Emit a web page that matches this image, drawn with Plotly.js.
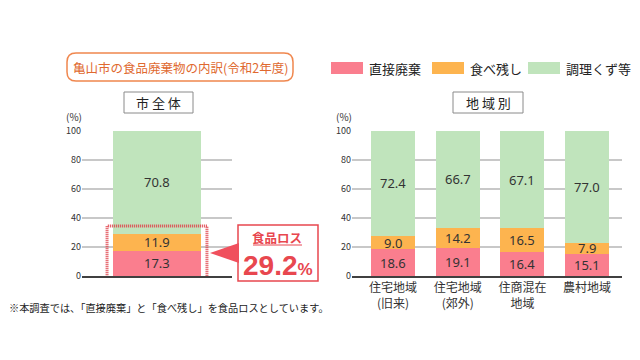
<!DOCTYPE html>
<html>
<head>
<meta charset="utf-8">
<script src="https://cdn.plot.ly/plotly-3.0.1.min.js"></script>
<style>html,body{margin:0;padding:0;background:#fff;}#chart{width:640px;height:360px;}</style>
</head>
<body>
<div id="chart"></div>
<script>
// ---- data ----
const cityCategory = ['市全体'];
const cityDirect = [17.3];
const cityLeftover = [11.9];
const cityPrep = [70.8];

const regionCategories = ['住宅地域<br>(旧来)', '住宅地域<br>(郊外)', '住商混在<br>地域', '農村地域'];
const regionDirect = [18.6, 19.1, 16.4, 15.1];
const regionLeftover = [9.0, 14.2, 16.5, 7.9];
const regionPrep = [72.4, 66.7, 67.1, 77.0];

const seriesNames = ['直接廃棄', '食べ残し', '調理くず等'];
const yTicks = [0, 20, 40, 60, 80, 100];
// ---------------

const colors = ['#FA7E8E', '#FDB44F', '#C0E4BC'];
const FONT = '"Noto Sans CJK JP", "Noto Sans", sans-serif';
const NUMFONT = '"Noto Sans", "Open Sans", sans-serif';
const RED = '#E8474F';
const W = 640, H = 360;
const px = x => x / W;
const py = y => 1 - y / H;

const traces = [];
[cityDirect, cityLeftover, cityPrep].forEach((vals, i) => {
  traces.push({type: 'bar', x: cityCategory, y: vals, name: seriesNames[i], xaxis: 'x', yaxis: 'y',
    marker: {color: colors[i], line: {width: 0}}, width: 0.593, showlegend: false, hoverinfo: 'skip'});
});
[regionDirect, regionLeftover, regionPrep].forEach((vals, i) => {
  traces.push({type: 'bar', x: regionCategories, y: vals, name: seriesNames[i], xaxis: 'x2', yaxis: 'y2',
    marker: {color: colors[i], line: {width: 0}}, width: 0.68, showlegend: false, hoverinfo: 'skip'});
});

const annotations = [];
function addLabels(cats, stacks, xref, yref) {
  cats.forEach((c, j) => {
    let base = 0;
    stacks.forEach(s => {
      const v = s[j];
      annotations.push({x: c, y: base + v / 2, xref: xref, yref: yref, text: v.toFixed(1), showarrow: false,
        xanchor: 'center', yanchor: 'middle', borderpad: 0,
        font: {family: NUMFONT, size: 13, color: '#333'}});
      base += v;
    });
  });
}
addLabels(cityCategory, [cityDirect, cityLeftover, cityPrep], 'x', 'y');
addLabels(regionCategories, [regionDirect, regionLeftover, regionPrep], 'x2', 'y2');

const lossTotal = cityDirect[0] + cityLeftover[0];

function paperText(x, y, text, font, xanchor) {
  annotations.push({xref: 'paper', yref: 'paper', x: px(x), y: py(y), text: text, showarrow: false,
    xanchor: xanchor || 'center', yanchor: 'middle', font: font});
}
paperText(180, 67, '亀山市の食品廃棄物の内訳(令和2年度)', {family: FONT, size: 12.5, color: '#E0692F'});
paperText(158.5, 102.5, '市 全 体', {family: FONT, size: 13, color: '#222'});
paperText(488, 102.5, '地 域 別', {family: FONT, size: 13, color: '#222'});
paperText(74, 117, '(%)', {family: FONT, size: 10, color: '#333'});
paperText(344, 117, '(%)', {family: FONT, size: 10, color: '#333'});
paperText(277, 237, '<b>食品ロス</b>', {family: FONT, size: 12.5, color: RED});
paperText(278, 265, '<b>' + lossTotal.toFixed(1) + '<span style="font-size:17px">%</span></b>',
  {family: '"Liberation Sans", Arial, sans-serif', size: 28, color: RED});
paperText(7, 307, '※本調査では、「直接廃棄」と「食べ残し」を食品ロスとしています。', {family: FONT, size: 10.2, color: '#222'}, 'left');

// legend (manual)
const legendX = [331, 432, 528];
seriesNames.forEach((n, i) => {
  paperText(legendX[i] + 36, 68, n, {family: FONT, size: 13, color: '#222'}, 'left');
});

const shapes = [
  {type: 'path', xref: 'paper', yref: 'paper', layer: 'above',
   path: roundRect(67, 53, 293, 81, 9), line: {color: '#F0874E', width: 1.5}, fillcolor: 'rgba(0,0,0,0)'},
  {type: 'rect', xref: 'paper', yref: 'paper', x0: px(124), x1: px(193), y0: py(92), y1: py(113),
   line: {color: '#8a8a8a', width: 1}, fillcolor: 'rgba(0,0,0,0)'},
  {type: 'rect', xref: 'paper', yref: 'paper', x0: px(453), x1: px(523), y0: py(92), y1: py(113),
   line: {color: '#8a8a8a', width: 1}, fillcolor: 'rgba(0,0,0,0)'},
  {type: 'rect', xref: 'x', yref: 'y', x0: -0.333, x1: 0.333, y0: -4.1, y1: 34.5, layer: 'above',
   line: {color: '#E0404A', width: 3, dash: '1px,1px'}, fillcolor: 'rgba(0,0,0,0)'},
  {type: 'rect', xref: 'paper', yref: 'paper', x0: px(238), x1: px(318), y0: py(225), y1: py(281),
   line: {color: RED, width: 1.5}, fillcolor: '#fff'},
  {type: 'path', xref: 'paper', yref: 'paper',
   path: `M ${px(239)} ${py(243)} L ${px(210)} ${py(253)} L ${px(239)} ${py(263)} Z`,
   line: {width: 0}, fillcolor: '#F0505D'},
  {type: 'line', xref: 'paper', yref: 'paper', x0: px(253), x1: px(302), y0: py(245), y1: py(245),
   line: {color: RED, width: 1}}
];
legendX.forEach((x, i) => {
  shapes.push({type: 'rect', xref: 'paper', yref: 'paper', x0: px(x), x1: px(x + 32), y0: py(62), y1: py(74),
    line: {width: 0}, fillcolor: colors[i]});
});

function roundRect(x0, y0, x1, y1, r) {
  const X = px, Y = py;
  return `M ${X(x0 + r)} ${Y(y0)} L ${X(x1 - r)} ${Y(y0)} Q ${X(x1)} ${Y(y0)} ${X(x1)} ${Y(y0 + r)} ` +
    `L ${X(x1)} ${Y(y1 - r)} Q ${X(x1)} ${Y(y1)} ${X(x1 - r)} ${Y(y1)} L ${X(x0 + r)} ${Y(y1)} ` +
    `Q ${X(x0)} ${Y(y1)} ${X(x0)} ${Y(y1 - r)} L ${X(x0)} ${Y(y0 + r)} Q ${X(x0)} ${Y(y0)} ${X(x0 + r)} ${Y(y0)} Z`;
}

const yCommon = {range: [0, 100], tickvals: yTicks, showgrid: true, gridcolor: '#c8c8c8', gridwidth: 1.5,
  zeroline: false, showline: false, ticks: '', fixedrange: true,
  tickfont: {family: FONT, size: 9, color: '#333'}, domain: [py(276), py(131)]};

const layout = {
  width: W, height: H, margin: {l: 0, r: 0, t: 0, b: 0},
  paper_bgcolor: '#fff', plot_bgcolor: 'rgba(0,0,0,0)',
  barmode: 'stack', bargap: 0, showlegend: false,
  font: {family: FONT},
  xaxis: {domain: [px(82), px(232)], range: [-0.5, 0.5], showticklabels: false, ticks: '',
    showline: true, linecolor: '#404040', linewidth: 2, showgrid: false, zeroline: false, fixedrange: true},
  yaxis: Object.assign({}, yCommon, {anchor: 'x'}),
  xaxis2: {domain: [px(352), px(622)], range: [-0.634, 3.54], ticks: '', anchor: 'y2',
    showline: true, linecolor: '#404040', linewidth: 2, showgrid: false, zeroline: false, fixedrange: true,
    tickfont: {family: FONT, size: 12, color: '#333'}},
  yaxis2: Object.assign({}, yCommon, {anchor: 'x2'}),
  annotations: annotations,
  shapes: shapes
};

Plotly.newPlot('chart', traces, layout, {displayModeBar: false, staticPlot: true});
</script>
</body>
</html>
